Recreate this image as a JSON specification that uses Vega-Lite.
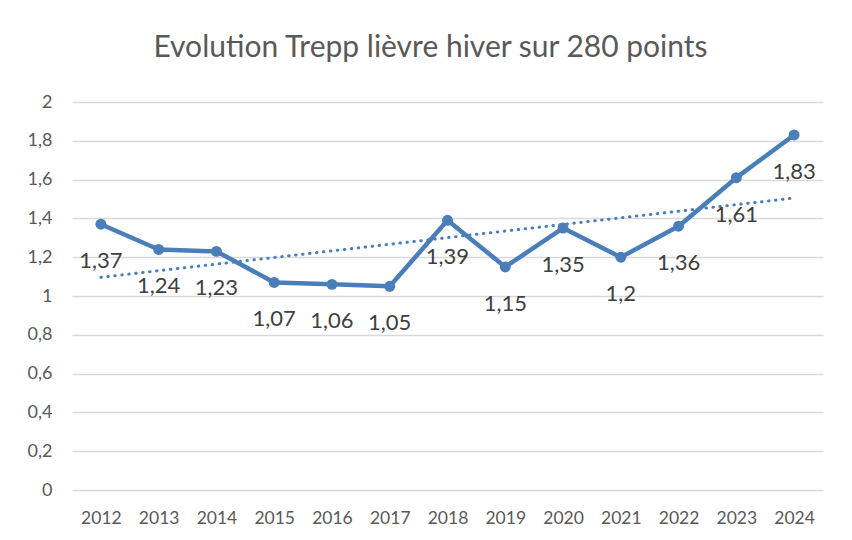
{
  "$schema": "https://vega.github.io/schema/vega-lite/v6.json",
  "width": 751,
  "height": 388,
  "autosize": {"type": "none"},
  "padding": {"left": 72, "top": 102, "right": 29, "bottom": 50},
  "background": "white",
  "title": {
    "text": "Evolution Trepp lièvre hiver sur 280 points",
    "font": "Lato",
    "fontSize": 30,
    "fontWeight": "normal",
    "color": "#595959",
    "anchor": "middle",
    "dx": -17,
    "offset": 30
  },
  "data": {
    "values": [
      {"annee": 2012, "valeur": 1.37},
      {"annee": 2013, "valeur": 1.24},
      {"annee": 2014, "valeur": 1.23},
      {"annee": 2015, "valeur": 1.07},
      {"annee": 2016, "valeur": 1.06},
      {"annee": 2017, "valeur": 1.05},
      {"annee": 2018, "valeur": 1.39},
      {"annee": 2019, "valeur": 1.15},
      {"annee": 2020, "valeur": 1.35},
      {"annee": 2021, "valeur": 1.2},
      {"annee": 2022, "valeur": 1.36},
      {"annee": 2023, "valeur": 1.61},
      {"annee": 2024, "valeur": 1.83}
    ]
  },
  "encoding": {
    "x": {
      "field": "annee",
      "type": "quantitative",
      "scale": {"domain": [2011.5, 2024.5], "nice": false, "zero": false},
      "axis": {
        "title": null,
        "values": [2012, 2013, 2014, 2015, 2016, 2017, 2018, 2019, 2020, 2021, 2022, 2023, 2024],
        "format": "d",
        "grid": false,
        "ticks": false,
        "domain": false,
        "labelFont": "Lato",
        "labelFontSize": 17.5,
        "labelColor": "#595959",
        "labelPadding": 19
      }
    },
    "y": {
      "field": "valeur",
      "type": "quantitative",
      "scale": {"domain": [0, 2], "nice": false},
      "axis": {
        "title": null,
        "values": [0, 0.2, 0.4, 0.6, 0.8, 1, 1.2, 1.4, 1.6, 1.8, 2],
        "format": "~g",
        "labelExpr": "replace(datum.label, '.', ',')",
        "ticks": false,
        "domain": false,
        "grid": true,
        "gridColor": "#d9d9d9",
        "gridWidth": 1.5,
        "labelFont": "Lato",
        "labelFontSize": 18,
        "labelColor": "#595959",
        "labelPadding": 20
      }
    }
  },
  "layer": [
    {
      "transform": [{"regression": "valeur", "on": "annee", "method": "linear"}],
      "mark": {"type": "line", "color": "#4a7ebb", "strokeWidth": 3, "strokeDash": [0.5, 6.5], "strokeCap": "round"}
    },
    {
      "mark": {"type": "line", "color": "#4a7ebb", "strokeWidth": 4.5, "strokeJoin": "round"}
    },
    {
      "mark": {"type": "point", "filled": true, "color": "#4a7ebb", "size": 120, "opacity": 1}
    },
    {
      "mark": {"type": "text", "dy": 37, "baseline": "middle", "align": "center", "font": "Lato", "fontSize": 22, "color": "#404040"},
      "encoding": {
        "text": {"field": "valeur", "type": "quantitative", "format": "~g"}
      }
    }
  ],
  "config": {
    "view": {"stroke": null},
    "locale": {"number": {"decimal": ",", "thousands": " ", "grouping": [3], "currency": ["", " €"]}}
  }
}
